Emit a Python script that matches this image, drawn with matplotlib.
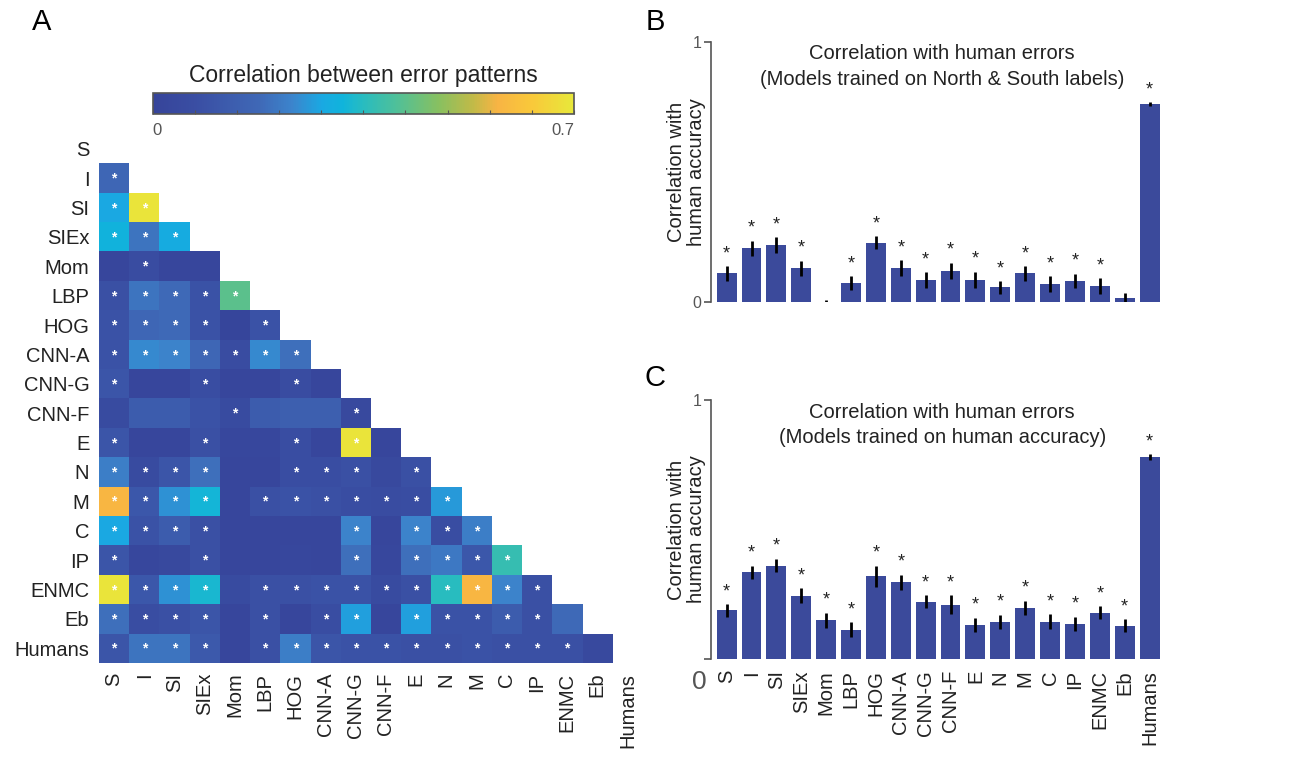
import numpy as np
import matplotlib
matplotlib.use("Agg")
import matplotlib.pyplot as plt
from matplotlib.colors import LinearSegmentedColormap

plt.rcParams['font.family'] = ['Liberation Sans', 'DejaVu Sans']

# --- data -------------------------------------------------------------
labels = ['S', 'I', 'SI', 'SIEx', 'Mom', 'LBP', 'HOG', 'CNN-A', 'CNN-G', 'CNN-F',
          'E', 'N', 'M', 'C', 'IP', 'ENMC', 'Eb', 'Humans']

# lower triangle of the error-pattern correlation matrix (row r has r entries)
corr_rows = [
    [],
    [0.17],
    [0.28, 0.69],
    [0.31, 0.20, 0.29],
    [0.02, 0.06, 0.02, 0.02],
    [0.08, 0.20, 0.18, 0.09, 0.42],
    [0.09, 0.17, 0.18, 0.09, 0.01, 0.09],
    [0.09, 0.24, 0.23, 0.17, 0.06, 0.24, 0.19],
    [0.10, 0.02, 0.02, 0.07, 0.02, 0.02, 0.06, 0.02],
    [0.05, 0.13, 0.13, 0.09, 0.05, 0.13, 0.14, 0.14, 0.04],
    [0.10, 0.02, 0.02, 0.08, 0.03, 0.03, 0.07, 0.02, 0.69, 0.02],
    [0.22, 0.05, 0.10, 0.19, 0.02, 0.02, 0.07, 0.07, 0.08, 0.04, 0.08],
    [0.58, 0.11, 0.25, 0.32, 0.02, 0.08, 0.09, 0.08, 0.07, 0.06, 0.07, 0.26],
    [0.28, 0.09, 0.13, 0.08, 0.02, 0.02, 0.02, 0.02, 0.23, 0.02, 0.23, 0.07, 0.22],
    [0.10, 0.03, 0.04, 0.08, 0.02, 0.02, 0.03, 0.02, 0.19, 0.03, 0.19, 0.21, 0.11, 0.37],
    [0.69, 0.11, 0.25, 0.33, 0.05, 0.08, 0.08, 0.09, 0.09, 0.05, 0.08, 0.35, 0.58, 0.23, 0.08],
    [0.19, 0.07, 0.08, 0.10, 0.02, 0.08, 0.02, 0.07, 0.27, 0.02, 0.27, 0.09, 0.09, 0.13, 0.08, 0.18],
    [0.10, 0.20, 0.20, 0.12, 0.02, 0.08, 0.22, 0.10, 0.09, 0.09, 0.08, 0.08, 0.09, 0.08, 0.08, 0.08, 0.04],
]

# columns marked significant (*) in each row
sig_cols = [
    [],
    [0],
    [0, 1],
    [0, 1, 2],
    [1],
    [0, 1, 2, 3, 4],
    [0, 1, 2, 3, 5],
    [0, 1, 2, 3, 4, 5, 6],
    [0, 3, 6],
    [4, 8],
    [0, 3, 6, 8],
    [0, 1, 2, 3, 6, 7, 8, 10],
    [0, 1, 2, 3, 5, 6, 7, 8, 9, 10, 11],
    [0, 1, 2, 3, 8, 10, 11, 12],
    [0, 3, 8, 10, 11, 12, 13],
    [0, 1, 2, 3, 5, 6, 7, 8, 9, 10, 11, 12, 13, 14],
    [0, 1, 2, 3, 5, 7, 8, 10, 11, 12, 13, 14],
    [0, 1, 2, 3, 5, 6, 7, 8, 9, 10, 11, 12, 13, 14, 15],
]

# panel B: models trained on North & South labels
ns_corr = [0.109, 0.205, 0.218, 0.128, -0.004, 0.071, 0.227, 0.128, 0.083,
           0.118, 0.083, 0.055, 0.109, 0.068, 0.079, 0.060, 0.015, 0.760]
ns_err = [0.028, 0.029, 0.029, 0.029, 0.010, 0.026, 0.026, 0.031, 0.031,
          0.032, 0.032, 0.024, 0.028, 0.030, 0.028, 0.030, 0.020, 0.007]
ns_sig = [1, 1, 1, 1, 0, 1, 1, 1, 1, 1, 1, 1, 1, 1, 1, 1, 0, 1]

# panel C: models trained on human accuracy
ha_corr = [0.188, 0.334, 0.361, 0.244, 0.149, 0.113, 0.319, 0.296, 0.222,
           0.210, 0.132, 0.144, 0.198, 0.144, 0.136, 0.179, 0.129, 0.780]
ha_err = [0.024, 0.027, 0.026, 0.029, 0.030, 0.028, 0.042, 0.029, 0.024,
          0.037, 0.028, 0.027, 0.027, 0.028, 0.028, 0.026, 0.024, 0.011]
ha_sig = [1] * 18

# --- style --------------------------------------------------------------
parula_like = LinearSegmentedColormap.from_list('parula_like', [
    (0.00, '#36449a'), (0.10, '#3a4ea3'), (0.25, '#3f68b6'), (0.33, '#3c84cc'),
    (0.40, '#1aa8e2'), (0.45, '#10b4dc'), (0.50, '#28bcc0'), (0.58, '#50c098'),
    (0.68, '#88c060'), (0.76, '#c0ba48'), (0.82, '#f8b444'), (0.90, '#f9c83a'),
    (1.00, '#e8e83a')])
bar_color = '#3b4a9b'
gray = '#555555'

W, H = 1314, 758
fig = plt.figure(figsize=(W / 100, H / 100), dpi=100)


def box(x0, y0, x1, y1):
    # pixel box (top-left origin) -> figure fraction rect
    return [x0 / W, 1 - y1 / H, (x1 - x0) / W, (y1 - y0) / H]


# --- panel A: heatmap -----------------------------------------------------
n = len(labels)
mat = np.full((n, n), np.nan)
for r, row in enumerate(corr_rows):
    for c, v in enumerate(row):
        mat[r, c] = v

axA = fig.add_axes(box(99, 134, 642.6, 663))
im = axA.imshow(np.ma.masked_invalid(mat), cmap=parula_like, vmin=0, vmax=0.7,
                aspect='auto', interpolation='nearest')
for r, cols in enumerate(sig_cols):
    for c in cols:
        axA.text(c, r + 0.02, '*', color='white', ha='center', va='center',
                 fontsize=10, fontweight='bold')
axA.set_xticks(range(n))
axA.set_yticks(range(n))
axA.set_xticklabels(labels, rotation=90, fontsize=14.5, color='#222222')
axA.set_yticklabels(labels, fontsize=14.5, color='#222222')
axA.tick_params(length=0, pad=7)
for s in axA.spines.values():
    s.set_visible(False)

cax = fig.add_axes(box(152.7, 93, 574, 114))
cb = fig.colorbar(im, cax=cax, orientation='horizontal')
cb.set_ticks(np.linspace(0, 0.7, 11))
cb.set_ticklabels([''] * 11)
cax.tick_params(direction='in', length=3, color=gray, width=0.8)
cb.outline.set_edgecolor(gray)
cb.outline.set_linewidth(1.2)
cax.text(0.0, -0.45, '0', transform=cax.transAxes, ha='left', va='top',
         fontsize=12, color=gray)
cax.text(1.0, -0.45, '0.7', transform=cax.transAxes, ha='right', va='top',
         fontsize=12, color=gray)
cax.text(0.5, 1.3, 'Correlation between error patterns', transform=cax.transAxes,
         ha='center', va='bottom', fontsize=16.5, color='#222222')

fig.text(42 / W, 1 - 22 / H, 'A', fontsize=21, ha='center', va='center')
fig.text(655 / W, 1 - 22 / H, 'B', fontsize=21, ha='center', va='center')
fig.text(655 / W, 1 - 378 / H, 'C', fontsize=21, ha='center', va='center')


# --- panels B and C: bar charts ---------------------------------------------
def bar_panel(ax, vals, errs, sig, title, show_labels):
    x = np.arange(1, len(vals) + 1)
    ax.bar(x, vals, width=0.8, color=bar_color)
    ax.errorbar(x, vals, yerr=errs, fmt='none', ecolor='black', elinewidth=2,
                capsize=0)
    for xi, v, e, s in zip(x, vals, errs, sig):
        if s:
            ax.text(xi, max(v, 0) + e + 0.015, '*', ha='center', va='bottom',
                    fontsize=13, color='#222222')
    ax.set_xlim(0.37, 18.42)
    ax.set_ylim(0, 1)
    for side in ('top', 'right', 'bottom'):
        ax.spines[side].set_visible(False)
    ax.spines['left'].set_color(gray)
    ax.spines['left'].set_linewidth(1.2)
    ax.set_yticks([0, 1])
    ax.tick_params(axis='y', colors=gray, labelsize=11.5, length=5, width=1.2,
                   pad=2)
    ax.tick_params(axis='x', length=0, pad=8)
    ax.set_xticks(x)
    if show_labels:
        ax.set_xticklabels(labels, rotation=90, fontsize=14.5, color='#222222')
    else:
        ax.set_xticklabels([])
    ax.text(0.515, 0.99, title, transform=ax.transAxes, ha='center', va='top',
            fontsize=14.5, color='#222222', linespacing=1.45)
    ax.text(-0.0546, 0.5, 'Correlation with\nhuman accuracy', transform=ax.transAxes,
            rotation=90, ha='center', va='center', fontsize=14.5,
            color='#222222', linespacing=1.1)


axB = fig.add_axes(box(711, 41.7, 1160, 301.7))
bar_panel(axB, ns_corr, ns_err, ns_sig,
          'Correlation with human errors\n(Models trained on North & South labels)',
          False)

axC = fig.add_axes(box(711, 400, 1160, 659))
bar_panel(axC, ha_corr, ha_err, ha_sig,
          'Correlation with human errors\n(Models trained on human accuracy)',
          True)
axC.set_yticklabels(['', '1'])
fig.text(699 / W, 1 - 682 / H, '0', fontsize=19, color=gray,
         ha='center', va='center')

fig.savefig('out.png', dpi=100)
